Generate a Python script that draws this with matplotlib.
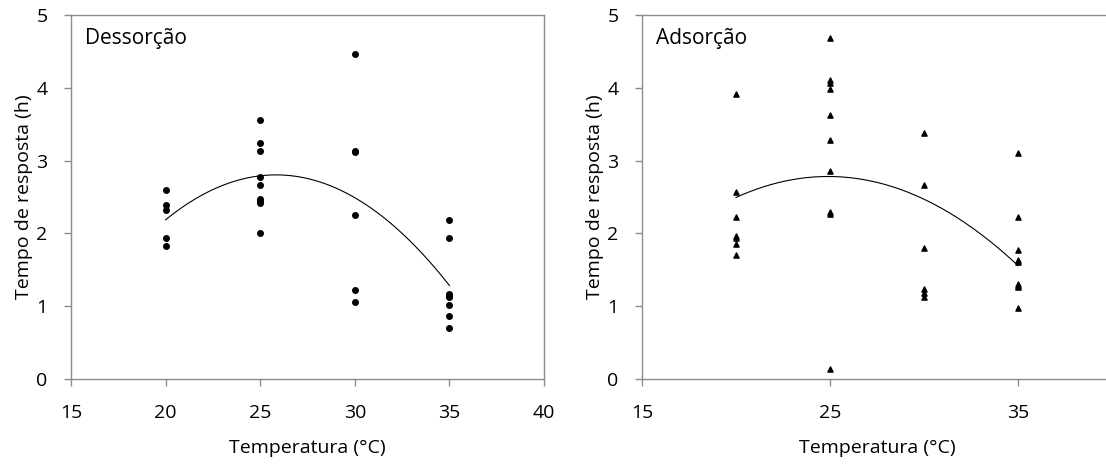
import matplotlib

matplotlib.use("Agg")
import matplotlib.pyplot as plt
import numpy as np

# Dessorção (left panel)
des_temp = [20, 20, 20, 20, 20,
            25, 25, 25, 25, 25, 25, 25, 25, 25,
            30, 30, 30, 30, 30, 30,
            35, 35, 35, 35, 35, 35, 35, 35]
des_time = [2.59, 2.39, 2.32, 1.93, 1.82,
            3.56, 3.24, 3.13, 2.77, 2.66, 2.47, 2.44, 2.42, 2.01,
            4.46, 3.13, 3.12, 2.25, 1.22, 1.06,
            2.19, 1.93, 1.17, 1.14, 1.12, 1.02, 0.86, 0.70]
# trend line values read at the four temperatures
des_trend_temp = [20, 25, 30, 35]
des_trend_time = [2.19, 2.78, 2.50, 1.28]

# Adsorção (right panel)
ads_temp = [20, 20, 20, 20, 20, 20, 20,
            25, 25, 25, 25, 25, 25, 25, 25, 25, 25,
            30, 30, 30, 30, 30, 30,
            35, 35, 35, 35, 35, 35, 35, 35, 35]
ads_time = [3.91, 2.57, 2.23, 1.97, 1.94, 1.86, 1.70,
            4.68, 4.10, 4.07, 3.98, 3.62, 3.28, 2.85, 2.30, 2.26, 0.14,
            3.38, 2.66, 1.80, 1.23, 1.18, 1.13,
            3.10, 2.23, 1.77, 1.63, 1.61, 1.30, 1.28, 1.26, 0.97]
ads_trend_temp = [20, 25, 30, 35]
ads_trend_time = [2.49, 2.79, 2.46, 1.56]

FONT = "Open Sans"
GREY = "#8c8c8c"

fig = plt.figure(figsize=(11.06, 4.66), dpi=100)
ax1 = fig.add_axes([0.0642, 0.1867, 0.4277, 0.7813])
ax2 = fig.add_axes([0.5805, 0.1867, 0.4249, 0.7813])


def style_axes(ax, xticks, label):
    ax.set_xlim(15, 40)
    ax.set_ylim(0, 5)
    ax.set_xticks(xticks)
    ax.set_yticks(range(0, 6))
    for s in ax.spines.values():
        s.set_color(GREY)
        s.set_linewidth(1.0)
    ax.tick_params(direction="out", length=5, color=GREY, width=1.0,
                   labelsize=14)
    ax.tick_params(axis="x", pad=13)
    ax.tick_params(axis="y", pad=12)
    for t in ax.get_xticklabels() + ax.get_yticklabels():
        t.set_family(FONT)
    ax.set_xlabel("Temperatura (°C)", fontsize=14, family=FONT, labelpad=12)
    ax.set_ylabel("Tempo de resposta (h)", fontsize=14, family=FONT,
                  labelpad=2)
    ax.text(0.03, 0.965, label, transform=ax.transAxes, fontsize=15,
            family=FONT, va="top", ha="left")


def trend(ax, tx, ty):
    coef = np.polyfit(tx, ty, 2)
    xs = np.linspace(min(tx), max(tx), 200)
    ax.plot(xs, np.polyval(coef, xs), color="black", lw=0.8)


ax1.scatter(des_temp, des_time, s=16, color="black", marker="o", zorder=3)
trend(ax1, des_trend_temp, des_trend_time)
style_axes(ax1, [15, 20, 25, 30, 35, 40], "Dessorção")

ax2.scatter(ads_temp, ads_time, s=14, color="black", marker="^", zorder=3)
trend(ax2, ads_trend_temp, ads_trend_time)
style_axes(ax2, [15, 25, 35], "Adsorção")

fig.savefig("out.png", dpi=100)
